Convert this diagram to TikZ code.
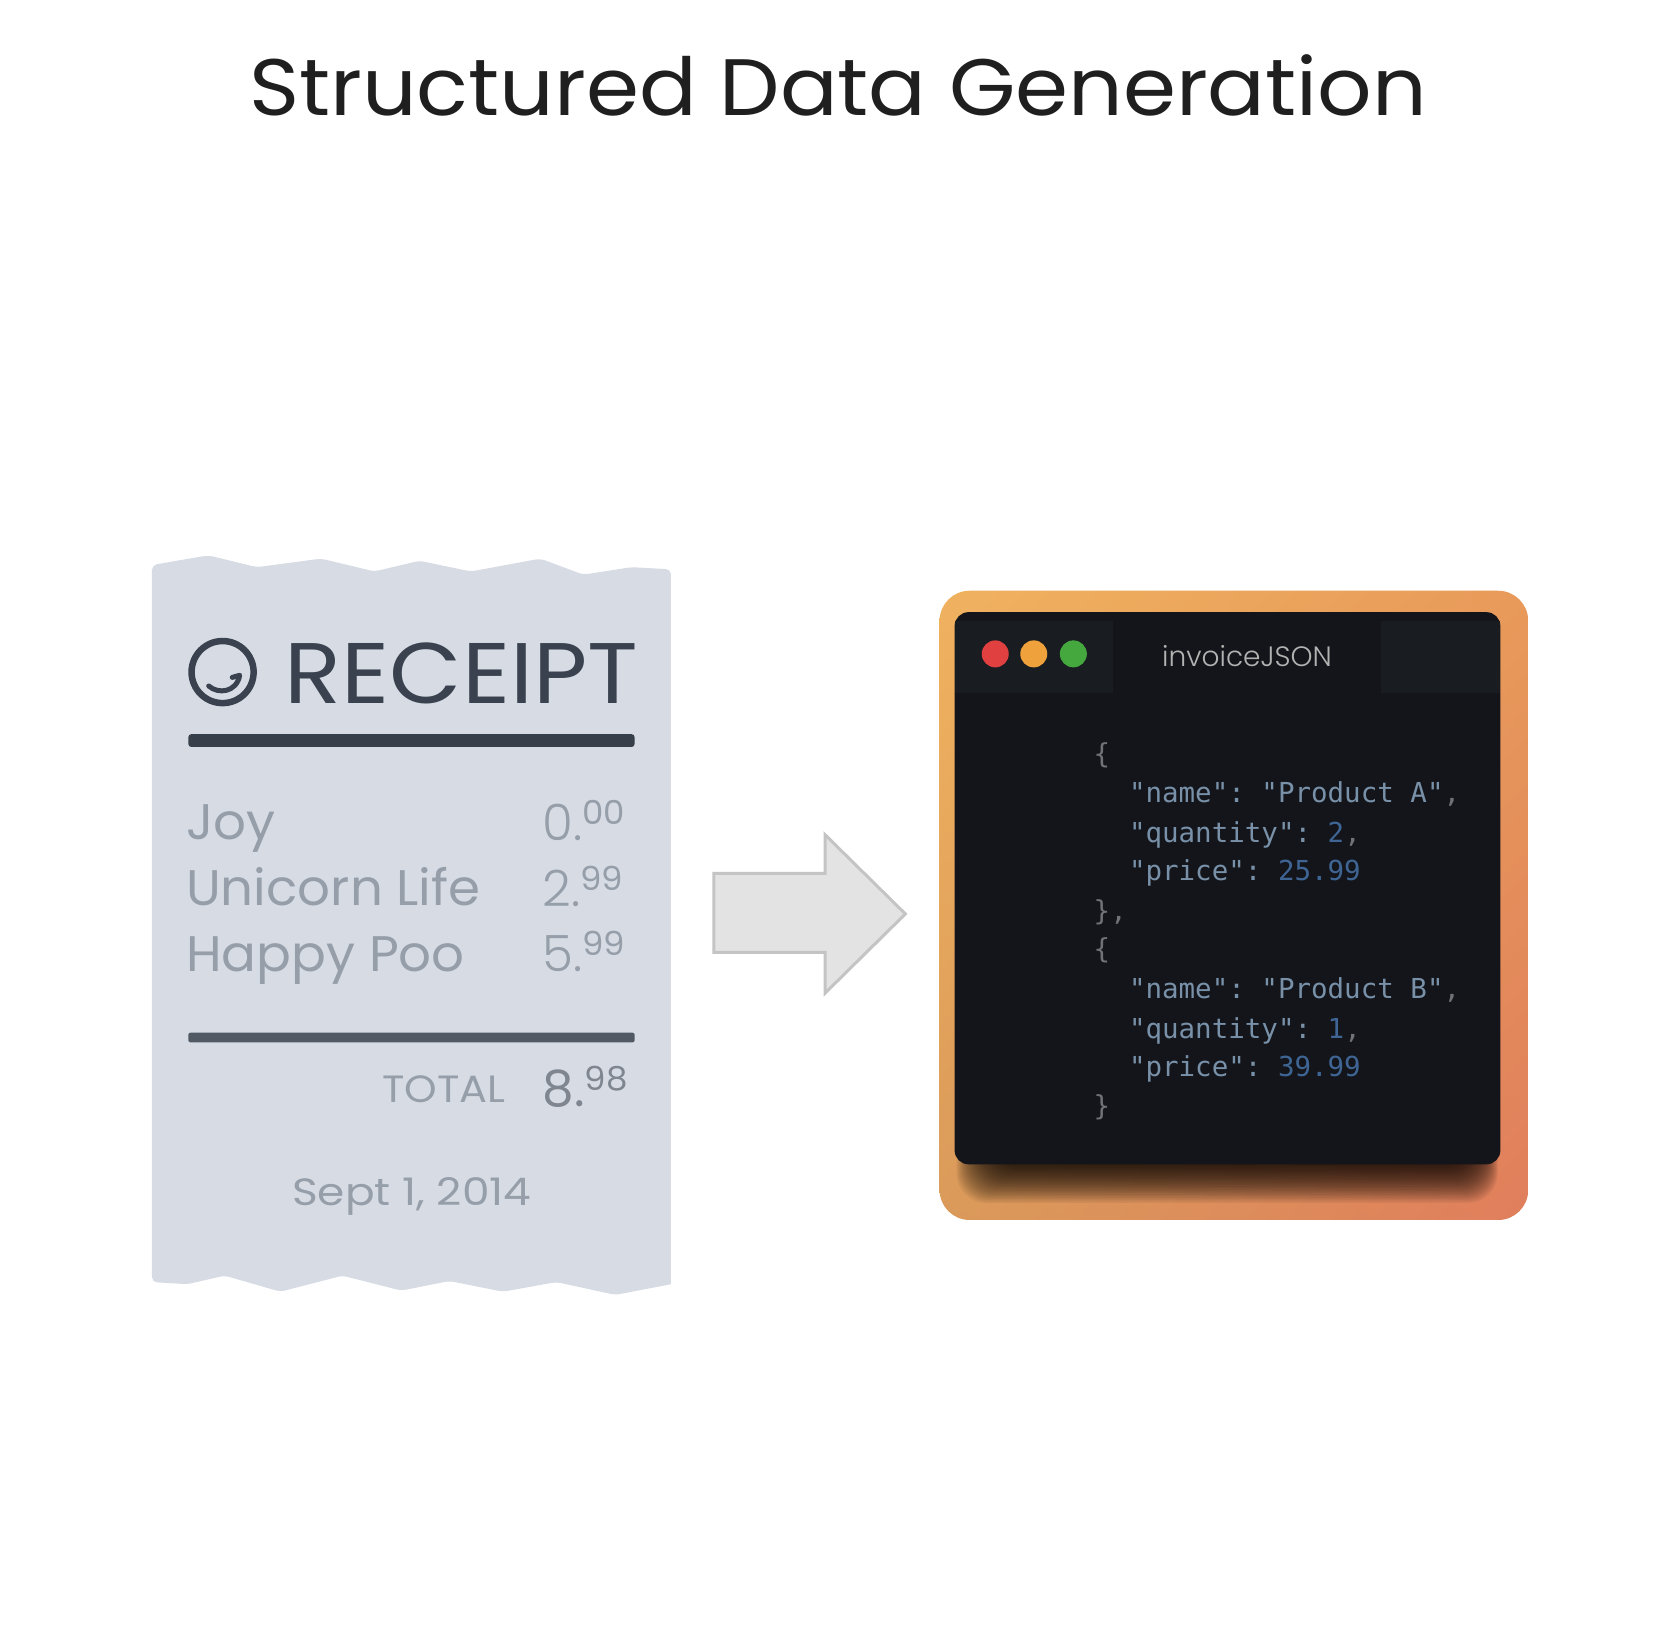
\documentclass[tikz,border=0pt]{standalone}
\usepackage{fontspec}
\setmainfont{Poppins}
\newfontfamily\ptitle{Poppins}[FakeStretch=1.067]
\newfontfamily\preceipt{Poppins}[FakeStretch=1.09]
\newfontfamily\pitem{Poppins}[FakeStretch=1.03]
\newfontfamily\psmall{Poppins}[FakeStretch=1.09]
\newfontfamily\pdate{Poppins}[FakeStretch=1.155]
\newfontfamily\plight{Poppins}[UprightFont=* Light]
\setmonofont{DejaVu Sans Mono}
\usetikzlibrary{calc,shadings}
\definecolor{paper}{HTML}{D7DCE4}
\definecolor{ink}{HTML}{39424E}
\definecolor{soft}{HTML}{959EA9}
\definecolor{winbg}{HTML}{13151A}
\definecolor{tabbg}{HTML}{191C21}
\definecolor{keyc}{HTML}{7890A8}
\definecolor{numc}{HTML}{3E6594}
\definecolor{punc}{HTML}{6F7276}
\definecolor{gradlr}{HTML}{E07E5C}
\definecolor{gradul}{HTML}{F0B25F}
\definecolor{gradur}{HTML}{E89A5A}
\definecolor{gradll}{HTML}{DA9A5A}
\definecolor{dotred}{HTML}{E0403F}
\definecolor{dotamber}{HTML}{EFA23B}
\definecolor{dotgreen}{HTML}{45A83F}
\tikzset{
  txt/.style={inner sep=0pt,outer sep=0pt,anchor=base west},
  item/.style={txt,text=soft,font=\pitem\fontsize{50}{50}\selectfont},
  price/.style={txt,text=soft,font=\plight\fontsize{50}{50}\selectfont},
  code/.style={txt,font=\ttfamily\fontsize{27.5}{28}\selectfont},
  dot/.style={circle,minimum size=27pt,inner sep=0pt},
}
\newcommand{\cents}[1]{\raisebox{16pt}{\pitem\fontsize{33}{33}\selectfont #1}}
\begin{document}
\begin{tikzpicture}[x=1.0702pt,y=-1.0702pt]
\useasboundingbox (0,0) rectangle (1568,1538);
\fill[white] (0,0) rectangle (1568,1538);
% title
\node[txt,text=black!88,font=\ptitle\fontsize{80}{80}\selectfont] (title) at (233,108) {Structured Data Generation};
% receipt
\fill[paper,rounded corners=5] (142,528) -- (165,524) -- (195,519) -- (240,530) -- (300,522) -- (350,534) -- (392,524) -- (440,534) -- (505,522) -- (545,537) -- (590,530) -- (627,532)
  [sharp corners] -- (627,1200) [rounded corners=5] -- (575,1210) -- (520,1198) -- (470,1207) -- (420,1197) -- (375,1206) -- (320,1192) -- (262,1207) -- (210,1192) -- (175,1200) -- (142,1198) -- cycle;
\draw[ink,line width=6.5pt] (208,628) circle[radius=29];
\draw[ink,line width=5pt,line cap=round,line join=round] (195,641) .. controls (204,649) and (221,647) .. (224,631) -- (217,633);
\node[txt,text=ink,font=\preceipt\fontsize{86}{86}\selectfont] (rtitle) at (266,657) {RECEIPT};
\fill[ink!95!black,rounded corners=3] (176,686) rectangle (593,698);
\node[item] (i1) at (174,784) {Joy};
\node[item] (i2) at (174,846) {Unicorn Life};
\node[item] (i3) at (174,908) {Happy Poo};
\node[price] (p1) at (507,785) {0.\cents{00}};
\node[price] (p2) at (507,847) {2.\cents{99}};
\node[price] (p3) at (507,908) {5.\cents{99}};
\fill[ink!85!paper,rounded corners=2] (176,965) rectangle (593,974);
\node[txt,text=soft,font=\psmall\fontsize{38}{38}\selectfont] (tot) at (357,1030) {TOTAL};
\node[txt,text=soft!85!black,font=\fontsize{50}{50}\selectfont] (totv) at (507,1034) {8.\cents{98}};
\node[txt,text=soft,font=\pdate\fontsize{38}{38}\selectfont] (date) at (273,1126) {Sept 1, 2014};
% arrow
\draw[fill=black!11,draw=black!23,line width=3pt,line join=miter]
  (667,816) -- (771,816) -- (771,780) -- (846,854) -- (771,928) -- (771,890) -- (667,890) -- cycle;
% window
\begin{scope}
\clip[rounded corners=30] (878,552) rectangle (1428,1140);
\shade[lower right=gradlr,upper left=gradul,upper right=gradur,lower left=gradll] (878,552) rectangle (1428,1140);
\foreach \i in {0,...,24}{
  \fill[black,opacity=0.055,rounded corners=30] ({925-1.3*\i},620) rectangle ({1378+0.9*\i},{1088+1.5*\i});
}
\end{scope}
\fill[winbg,rounded corners=14] (892,572) rectangle (1402,1088);
\fill[tabbg] (892,580) rectangle (1040,648);
\fill[tabbg] (1290,580) rectangle (1402,648);
\node[dot,fill=dotred] (red) at (930,611) {};
\node[dot,fill=dotamber] (amber) at (966,611) {};
\node[dot,fill=dotgreen] (green) at (1003,611) {};
\node[txt,text=black!30,font=\plight\fontsize{28}{28}\selectfont] (tab) at (1086,623) {invoiceJSON};
% code
\node[code,text=punc] (c1) at (1022,713) {\{};
\node[code,text=keyc] (c2) at (1055,750) {"name": "Product A"\textcolor{punc}{,}};
\node[code,text=keyc] (c3) at (1055,787) {"quantity": \textcolor{numc}{2}\textcolor{punc}{,}};
\node[code,text=keyc] (c4) at (1055,823) {"price": \textcolor{numc}{25.99}};
\node[code,text=punc] (c5) at (1022,860) {\},};
\node[code,text=punc] (c6) at (1022,896) {\{};
\node[code,text=keyc] (c7) at (1055,933) {"name": "Product B"\textcolor{punc}{,}};
\node[code,text=keyc] (c8) at (1055,970) {"quantity": \textcolor{numc}{1}\textcolor{punc}{,}};
\node[code,text=keyc] (c9) at (1055,1006) {"price": \textcolor{numc}{39.99}};
\node[code,text=punc] (c10) at (1022,1042) {\}};
\end{tikzpicture}
\end{document}
